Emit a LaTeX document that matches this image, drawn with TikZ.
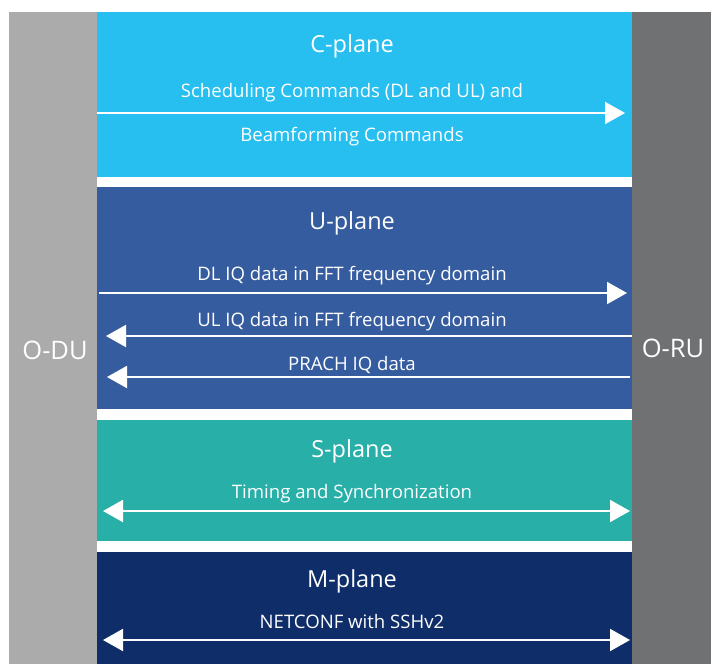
\documentclass[tikz,border=0pt]{standalone}
\usepackage{fontspec}
\setmainfont{Open Sans}
\usetikzlibrary{arrows.meta}
\definecolor{odu}{HTML}{ABABAB}
\definecolor{oru}{HTML}{707173}
\definecolor{cpl}{HTML}{27BFF0}
\definecolor{upl}{HTML}{365CA0}
\definecolor{spl}{HTML}{27AFA8}
\definecolor{mpl}{HTML}{0F2D69}
\begin{document}
\begin{tikzpicture}[x=1pt,y=-1pt,
  bar/.style={draw=none,inner sep=0pt,outer sep=0pt,anchor=north west},
  side/.style={text=white,font=\fontsize{25.5}{28}\selectfont,inner sep=0pt},
  ttl/.style={text=white,font=\fontsize{23.5}{26}\selectfont,inner sep=0pt},
  lbl/.style={text=white,font=\fontsize{18.6}{21}\selectfont,inner sep=0pt},
  arr/.style={draw=white,line width=2pt,-{Triangle[length=20pt,width=22pt]}},
  darr/.style={draw=white,line width=2pt,{Triangle[length=20pt,width=22pt]}-{Triangle[length=20pt,width=22pt]}}]
\useasboundingbox (0,0) rectangle (711,664);
\fill[white] (0,0) rectangle (711,664);
% side bars
\node[bar,fill=odu,minimum width=88pt,minimum height=652pt] (odu) at (9,12) {};
\node[bar,fill=oru,minimum width=79pt,minimum height=652pt] (oru) at (632,12) {};
\node[side] (odut) at (55,350) {O-DU};
\node[side] (orut) at (673,348) {O-RU};
% planes
\node[bar,fill=cpl,minimum width=535pt,minimum height=165pt] (cp) at (97,12) {};
\node[bar,fill=upl,minimum width=535pt,minimum height=222pt] (up) at (97,187) {};
\node[bar,fill=spl,minimum width=535pt,minimum height=121pt] (sp) at (97,420) {};
\node[bar,fill=mpl,minimum width=535pt,minimum height=112pt] (mp) at (97,552) {};
% titles
\node[ttl] (cpt) at (352,46) {C-plane};
\node[ttl] (upt) at (352,223) {U-plane};
\node[ttl] (spt) at (352,451) {S-plane};
\node[ttl] (mpt) at (352,581) {M-plane};
% labels
\node[lbl] (c1) at (352,93) {Scheduling Commands (DL and UL) and};
\node[lbl] (c2) at (352,137) {Beamforming Commands};
\node[lbl] (u1) at (352,276) {DL IQ data in FFT frequency domain};
\node[lbl] (u2) at (352,322) {UL IQ data in FFT frequency domain};
\node[lbl] (u3) at (352,365) {PRACH IQ data};
\node[lbl] (s1) at (352,494) {Timing and Synchronization};
\node[lbl] (m1) at (352,622) {NETCONF with SSHv2};
% arrow end points
\coordinate (ca) at (97,113);   \coordinate (cb) at (625,113);
\coordinate (da) at (99,293);   \coordinate (db) at (627,293);
\coordinate (ua) at (632,336);  \coordinate (ub) at (106,336);
\coordinate (pa) at (630,377);  \coordinate (pb) at (107,377);
\coordinate (sa) at (103,511);  \coordinate (sb) at (630,511);
\coordinate (ma) at (103,640);  \coordinate (mb) at (630,640);
\draw[arr] (ca) -- (cb);
\draw[arr] (da) -- (db);
\draw[arr] (ua) -- (ub);
\draw[arr] (pa) -- (pb);
\draw[darr] (sa) -- (sb);
\draw[darr] (ma) -- (mb);
\end{tikzpicture}
\end{document}
